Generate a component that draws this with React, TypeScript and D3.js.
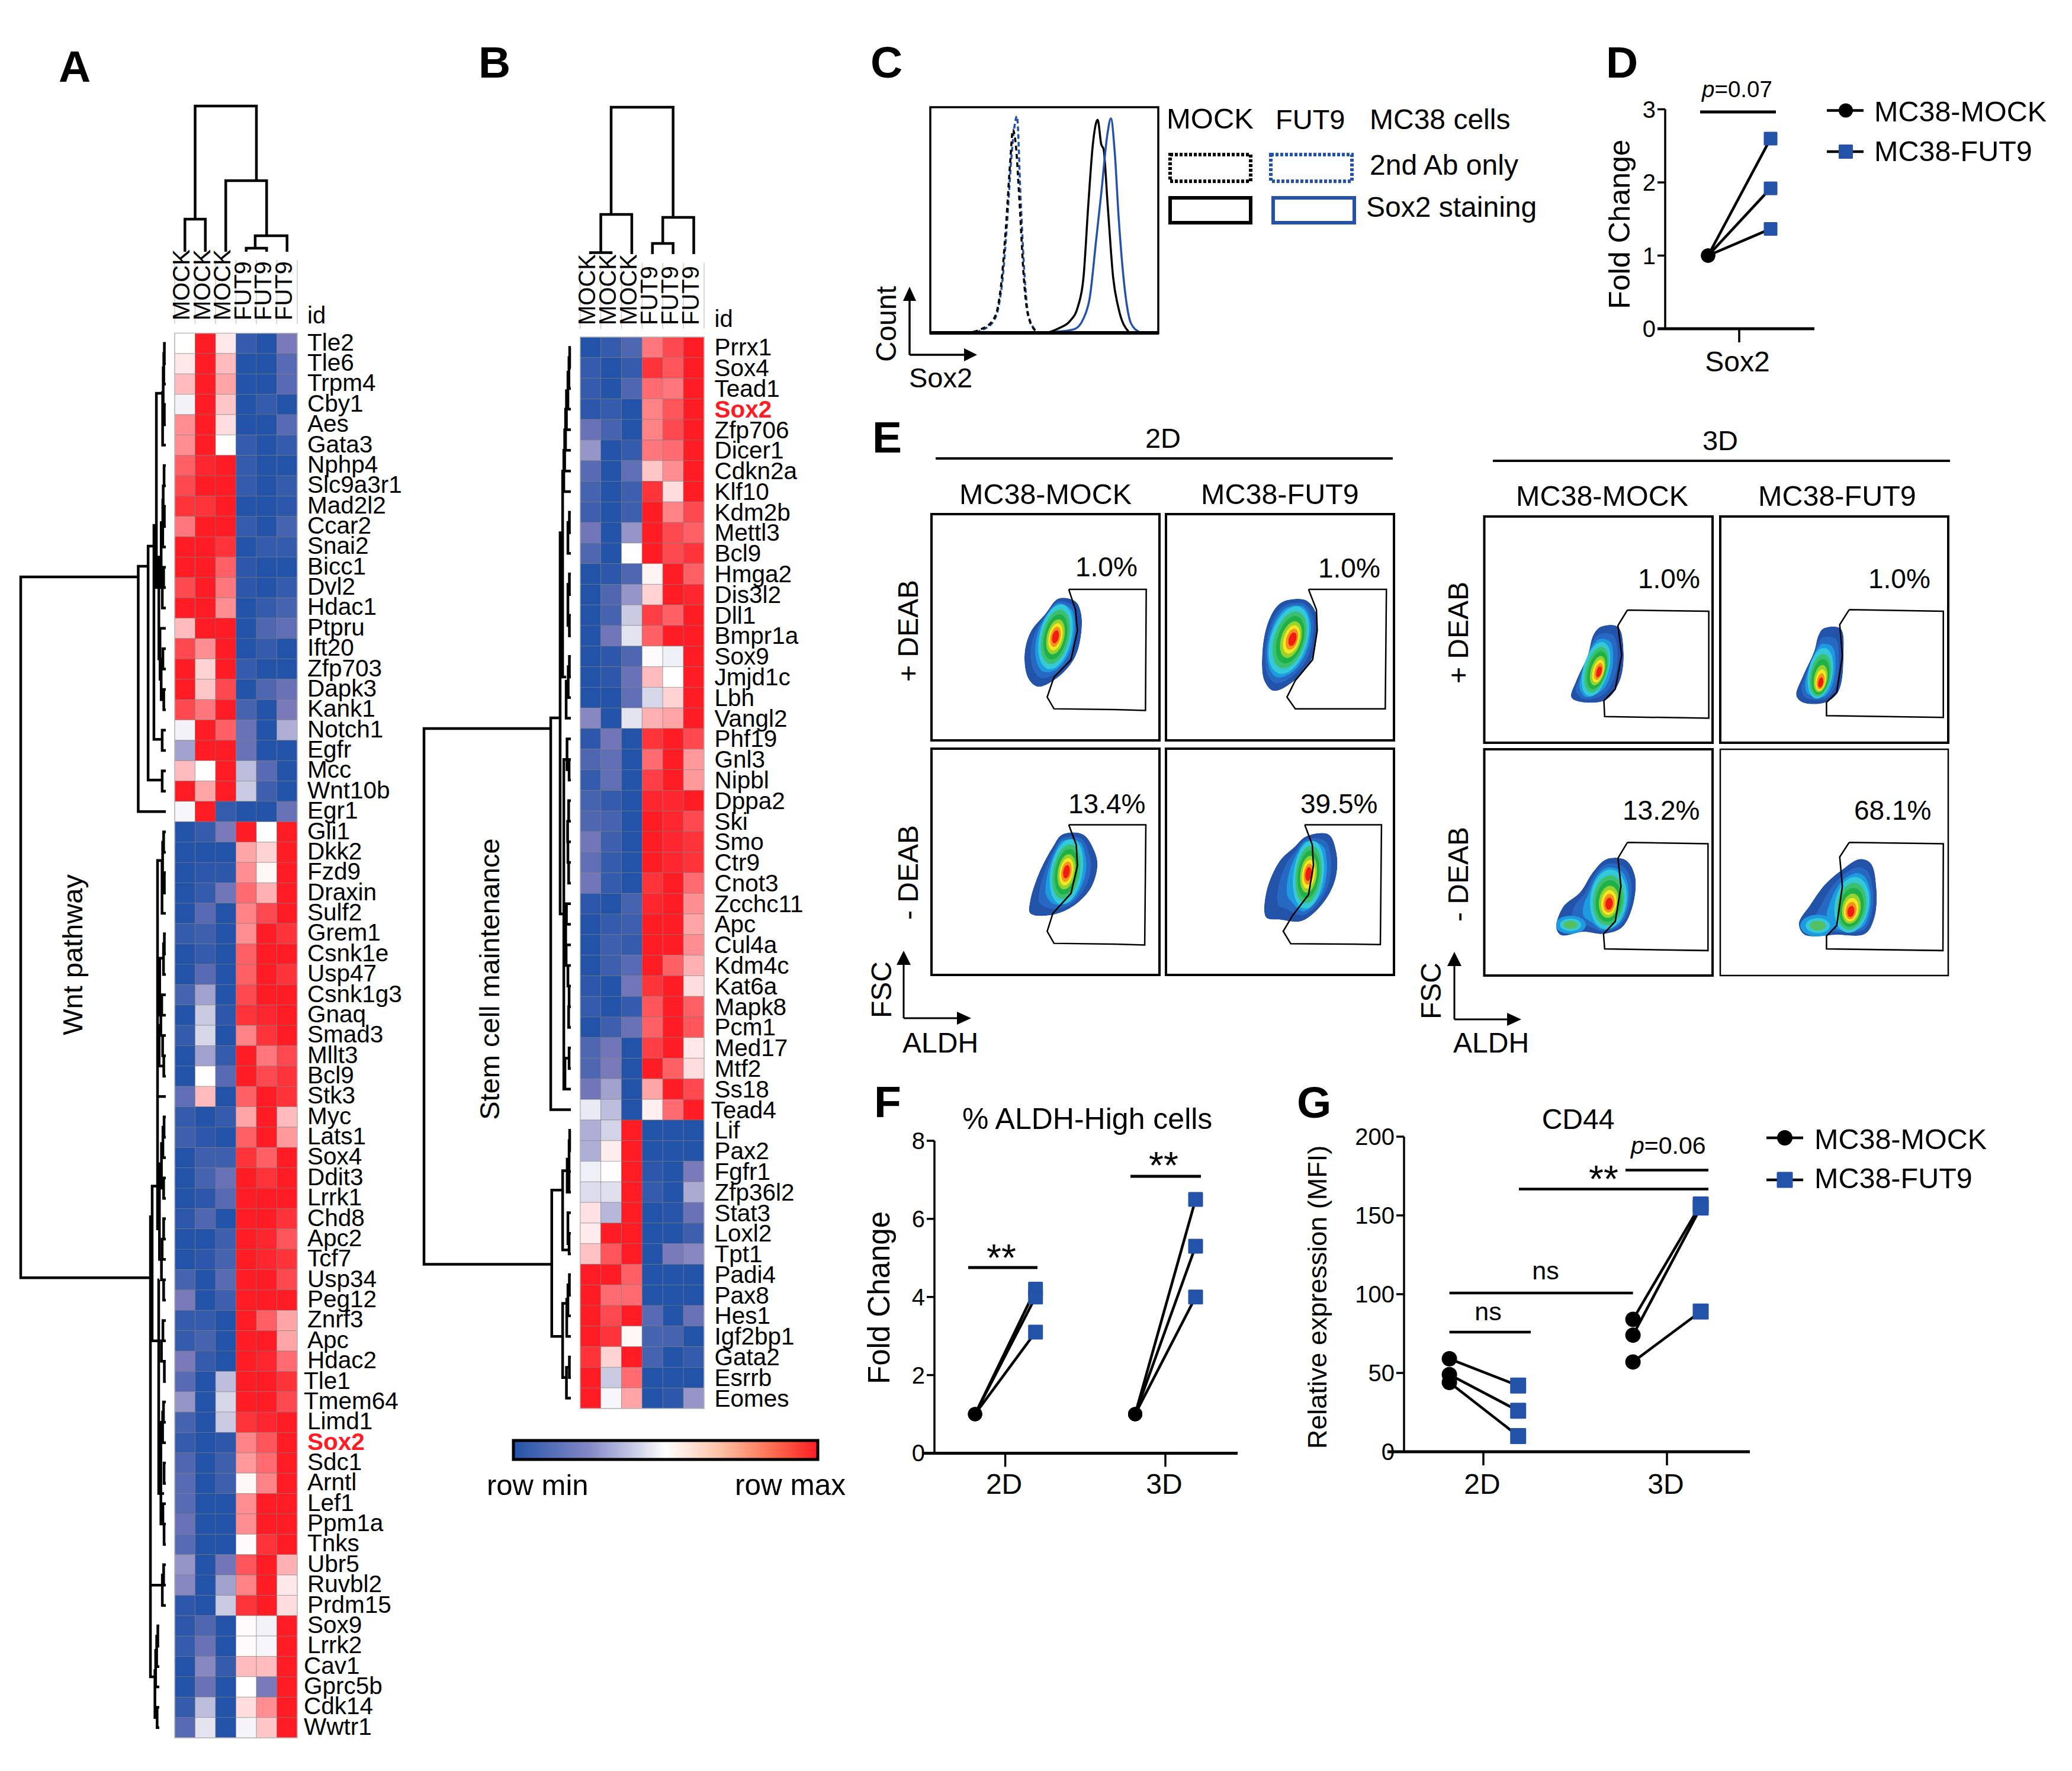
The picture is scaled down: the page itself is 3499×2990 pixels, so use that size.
import React from 'react';
import * as d3 from 'd3';

const FONT = '"Liberation Sans", Arial, sans-serif';
const BLUE = '#2353A8';
const RED = '#FF1C24';

// ---------- Heatmap data ----------
const genesA = ['Tle2','Tle6','Trpm4','Cby1','Aes','Gata3','Nphp4','Slc9a3r1','Mad2l2','Ccar2','Snai2','Bicc1','Dvl2','Hdac1','Ptpru','Ift20','Zfp703','Dapk3','Kank1','Notch1','Egfr','Mcc','Wnt10b','Egr1','Gli1','Dkk2','Fzd9','Draxin','Sulf2','Grem1','Csnk1e','Usp47','Csnk1g3','Gnaq','Smad3','Mllt3','Bcl9','Stk3','Myc','Lats1','Sox4','Ddit3','Lrrk1','Chd8','Apc2','Tcf7','Usp34','Peg12','Znrf3','Apc','Hdac2','Tle1','Tmem64','Limd1','Sox2','Sdc1','Arntl','Lef1','Ppm1a','Tnks','Ubr5','Ruvbl2','Prdm15','Sox9','Lrrk2','Cav1','Gprc5b','Cdk14','Wwtr1'];
const valuesA = [
[0,10,1,-9,-10,-5],[1,10,3,-10,-10,-7],[3,10,4,-10,-10,-7],[-0.5,10,2.5,-10,-9,-10],[5,10,1.5,-10,-10,-7],[5,10,0,-9,-10,-9],
[7,9.5,10,-9,-10,-10],[8,10,10,-9,-10,-9],[9,9,10,-10,-10,-9.5],[6,10,10,-9,-10,-8],[10,10,9,-10,-9,-9],[10,10,7,-9.5,-10,-10],
[8,10,6,-9.5,-10,-9],[10,10,5,-10,-9,-8],[3,10,10,-10,-7.5,-6.5],[8,5,10,-10,-9,-10],[10,2,10,-9,-10,-10],[10,2.5,8,-10,-7.5,-6],
[8,6,10,-8,-10,-5],[-0.5,10,7,-6,-10,-3],[-3.5,10,10,-6,-10,-10],[3,0,10,-2.5,-7,-10],[10,4,10,-2,-8.5,-10],[-0.3,10,-9,-10,-10,-6],
[-10,-9,-5,10,0,10],[-10,-10,-10,4,2,10],[-10,-9.5,-9.5,5,0.4,10],[-10,-9,-5.5,6.5,3.5,10],[-10,-7,-10,5.5,8,10],[-9,-8.5,-10,5,10,9],
[-10,-9,-10,7,10,10],[-10,-7,-10,7,10,9],[-8,-3.5,-10,8,10,10],[-10,-2,-9.5,9,9.5,10],[-9,-1.5,-10,5.5,9,10],[-10,-3.5,-9,10,6,8],
[-10,0,-7,10,8,9],[-6.5,3,-10,7,10,9],[-9,-10,-9,4,10,3],[-8.5,-9.5,-10,7,10,4.5],[-10,-8.5,-8.5,9,7,10],[-10,-8,-6,10,9,10],
[-10,-9.5,-7,10,10,10],[-9.5,-7.5,-10,10,10,9],[-10,-10,-8.5,10,9.5,7.5],[-10,-9.5,-8,10,9.5,9],[-8,-10,-7,10,10,8],[-5,-10,-8.5,10,10,10],
[-9,-9,-10,10,7,4],[-9,-8,-10,10,10,4],[-5,-9,-10,10,9.5,6.5],[-7,-10,-2.5,10,10,9],[-4,-10,-1.5,10,10,8],[-8,-10,-2,9,9.5,10],
[-9,-10,-9.5,5.5,7.5,10],[-7.5,-10,-8.5,4.5,6.5,10],[-7,-10,-8.5,0.3,5.5,10],[-7,-10,-10,5,10,10],[-6,-10,-10,5,10,10],[-7,-10,-10,0.2,9,10],
[-4,-10,-5.5,7.5,10,3.5],[-4.5,-10,-3.5,5.5,10,1],[-9.5,-10,-2,9,10,1.5],[-9.5,-7.5,-10,0.2,-0.5,10],[-9,-6,-10,0.2,-0.3,10],[-10,-4.5,-9,3,3,10],
[-10,-6,-10,0,-5,10],[-9,-2.5,-10,1.5,5,10],[-7,-1,-10,-0.4,2.5,10]];
const genesB = ['Prrx1','Sox4','Tead1','Sox2','Zfp706','Dicer1','Cdkn2a','Klf10','Kdm2b','Mettl3','Bcl9','Hmga2','Dis3l2','Dll1','Bmpr1a','Sox9','Jmjd1c','Lbh','Vangl2','Phf19','Gnl3','Nipbl','Dppa2','Ski','Smo','Ctr9','Cnot3','Zcchc11','Apc','Cul4a','Kdm4c','Kat6a','Mapk8','Pcm1','Med17','Mtf2','Ss18','Tead4','Lif','Pax2','Fgfr1','Zfp36l2','Stat3','Loxl2','Tpt1','Padi4','Pax8','Hes1','Igf2bp1','Gata2','Esrrb','Eomes'];
const valuesB = [
[-10,-9,-7.5,6,8,10],[-9,-10,-9,9,7.5,10],[-9,-10,-7.5,6.5,6,10],[-9.5,-9,-10,5.5,7.5,10],[-6,-8,-10,5.5,8,10],[-4,-10,-9,6,6.5,10],
[-7,-10,-6.5,2.5,5,10],[-8,-10,-8.5,9,1.5,10],[-8.5,-10,-8.5,10,5.5,8],[-5.5,-10,-4,10,8,7],[-7.5,-10,0,10,8,9],[-10,-9.5,-7.5,0.5,10,7],
[-10,-7.5,-4,2,10,9.5],[-10,-8,-2,8.5,7,10],[-10,-5.5,-1,7,10,10],[-10,-9.5,-7.5,0.2,-0.6,10],[-10,-9.5,-6,3,0,10],[-10,-10,-6.5,-1.5,2,10],
[-4.5,-10,-1,3.5,4,10],[-9.5,-5.5,-10,9,10,8],[-7.5,-6.5,-10,6.5,10,4.5],[-9,-6.5,-10,8.5,10,4.5],[-8,-9,-10,9.5,9.5,10],[-7.5,-8,-10,10,9.5,8],
[-5.5,-8.5,-10,10,9.5,9],[-6.5,-9,-10,10,9.5,9],[-5.5,-9,-10,9,10,6.5],[-9.5,-10,-8,9.5,10,5],[-10,-9,-8.5,10,10,4],[-10,-8.5,-9,10,10,5],
[-10,-8.5,-7,10,7,3.5],[-9.5,-10,-5.5,9,10,1.5],[-9,-10,-9,7.5,10,7],[-10,-8.5,-6,7,10,7.5],[-7.5,-5.5,-10,8.5,10,1],[-7.5,-5,-10,10,7,1.5],
[-5.5,-3.5,-10,4,10,8],[-0.8,-2.5,-10,0.7,6.5,10],[-3,-1.7,10,-10,-10,-10],[-3,0.8,10,-10,-10,-10],[-0.6,0.1,10,-9.5,-10,-5],[-1.3,-1.2,10,-9,-10,-3.2],
[1.3,-2.7,10,-10,-9.7,-6],[0.9,10,10,-10,-10,-8.5],[2.7,7.5,10,-10,-5,-4.5],[10,10,7,-10,-10,-10],[10,6.5,6.5,-10,-10,-10],[10,8,10,-7,-10,-6],
[10,9,0.4,-8,-8,-10],[9,2,10,-8,-10,-9],[10,-2,6.5,-10,-10,-10],[10,-0.3,4,-10,-9.5,-4]];
const samplesAB = ['MOCK','MOCK','MOCK','FUT9','FUT9','FUT9'];
const shiftedLabels = ['Tle1','Tmem64','Cav1','Gprc5b','Cdk14','Wwtr1','Tead4'];

// Dendrogram links: [from, to, height of first child, height of second child, height]
const treeTopA = [[0,1,0,0,22.4],[3,4,0,0,2.4],[3.44,5,2.4,0,11],[2,4,0,11,48.8],[0.5,3.5,22.4,48.8,100]];
const treeTopB = [[0,1,0,0,1],[0.5,2,1,0,27],[3,4,0,0,7.3],[3.5,5,7.3,0,25],[1,4,27,25,100]];
const treeRowA = [
[11.47,45.9,19,10.6,100],[10.95,23,12.2,0,19],[9.96,21.45,8.2,2.5,12.2],[21,22,0,0,2.5],[8.94,19.45,6.5,2.5,8.2],[19,20,0,0,2.5],[2.45,12,2.2,4.8,6.5],
[0,1,0,0,1],[0.5,2,1,0,1.4],[3,4,0,0,1],[1.2,3.5,1.4,1,1.8],[2.4,5,1.8,0,2.2],
[6,7,0,0,1.2],[8,9,0,0,1],[7,8.5,1.2,1,1.8],[7.7,10,1.8,0,2.1],[11,12,0,0,1.5],[11.5,13,1.5,0,2.4],[8.8,12,2.1,2.4,3.2],[15,16,0,0,2],[17,18,0,0,1.4],[15.5,17.5,2,1.4,3.2],[14,16.5,0,3.2,4],[10.5,15.5,3.2,4,4.8],
[42.9,65.5,9.4,7.5,10.6],[61,65.5,2.4,7.5,10.6],[60,61,0,0,1.5],[60.5,62,1.5,0,2.4],
[63,64,4.5,4.5,5.5],[63.5,65,5.5,4.5,6.3],[64.2,66,6.3,4.5,7],[67,68,4.5,4.5,6],[65.2,67.5,7,6,7.5],
[41.4,49,5.7,4.9,9.4],[25.4,43.5,2.6,4.4,5.7],[46,56.5,4.6,1.2,4.9],[37,37,0,0,5.7],
[24,25,0,0,1.5],[26,27,0,0,1],[24.5,26.5,1.5,1,2.2],[25.5,28,2.2,0,2.6],
[29,30,0,0,1],[29.5,31,1,0,1.6],[32,33,0,0,2.8],[33,34,0,0,3.4],[34,35,0,0,2.2],[35,36,0,0,1.4],[30.2,33,1.6,2.8,4.2],[33.5,35.5,3.4,2.2,4.6],
[38,39,0,0,1.2],[38.5,40,1.2,0,2],[41,42,0,0,1.5],[39.3,41.5,2,1.5,3],[40.3,45,3,3,4.4],
[43,44,0,0,1.5],[44,45,0,0,2.5],[45,46,0,0,3],[46,47,0,0,1.5],[48,49,0,0,2],[49,50,0,0,3],[50,51,0,0,1],
[52,53,0,0,1.6],[52.5,54,1.6,0,2.2],[55,56,0,0,1.2],[57,58,0,0,2],[58,59,0,0,1.2],[53,58,2.2,2,3.4]];
const treeRowB = [
[18.5,44.5,13.7,13,100],[17.98,37,7.3,0,13.7],[9,27.5,5.6,4.8,7.3],
[0,1,0,0,0.8],[0.5,2,0.8,0,1.3],[1.2,3,1.3,0,2],[2.1,4,2,0,3],[3,5,3,0,3.6],[4,6,3.6,0,4.2],[5,7,4.2,0,4.8],
[8,9,0,0,1],[8.5,10,1,0,2],[11,12,0,0,1],[13,14,0,0,1],[11.5,13.5,1,1,2],[15,16,0,0,1],[15.5,17,1,0,1.8],[16.2,18,1.8,0,3.2],[6,16,4.8,3.2,5.6],
[20,21,0,0,1.2],[22,23,0,0,1.5],[23,24,0,0,2.2],[24,25,0,0,2],[25,26,0,0,1.5],[19,20.5,0,1.2,2.6],[27,28,0,0,3],[28,29,0,0,3.5],[29,30,0,0,3.2],[30,31,0,0,2],[31,32,0,0,1.2],[32,33,0,0,1.5],[34,35,0,0,1.2],[34.5,36,1.2,0,4],[20,36,2.6,4,4.8],
[40.9,48,5.6,5.6,13],[39.96,43.8,2.5,2,5.6],[38,39,0,0,0.8],[38.5,40,0.8,0,1.2],[40,41,0,0,1.2],[39.4,41,1.2,1.2,2.5],[43,44,0,0,1.2],[42,43.5,0,1.2,2],
[45,46,0,0,1],[45.5,47,1,0,2],[46.2,48,2,0,2.8],[49,50,0,0,1],[49.5,51,1,0,3],[46.4,50,2.8,3,5.6]];

// ---------- Panel C ----------
const histDashedBlack = [[18.8,0.5],[22.2,1.6],[27.3,5.4],[29.7,11.8],[31.4,24.6],[33.1,46],[35.2,78],[36.2,90],[37.5,83.5],[39.2,56.7],[41,24.6],[42.7,8.6],[46,1]];
const histDashedBlue = [[20,0.3],[23,1.4],[27.6,5],[30,11.8],[31.8,24.6],[33.5,46],[35.6,78],[37,92],[38,96],[39.6,60],[41.4,24.6],[43,8],[46.5,0.8]];
const histSolidBlack = [[51.2,0],[56.3,2],[61.4,5.4],[64.8,11.8],[67.2,24.6],[69.3,56.7],[71.3,83.5],[73.4,94.4],[75,83.5],[76,81.4],[77.8,56.7],[80.2,24.6],[82.6,10.7],[87,0.5]];
const histSolidBlue = [[55.3,0.5],[63.1,1.6],[67.2,6.4],[70,16],[72.7,40.7],[75,62],[77.8,88.9],[79.2,95],[80.9,80],[82.6,51.4],[85.3,19.3],[88,4.3],[91.5,0.5]];

// ---------- Panel D, F, G values ----------
const foldD = [[1,2.6],[1,1.92],[1,1.365]];
const foldF2D = [[1,4.2],[1,4.0],[1,3.1]];
const foldF3D = [[1,6.5],[1,5.3],[1,4.0]];
const mfiG2D = [[59,42],[49,26],[44,10]];
const mfiG3D = [[84,157],[74,155],[57,89]];

// ---------- Panel E: gates and density outlines in plot units ----------
const plot2Dp = [
 {gate:[[363,181],[568,181],[566,472],[486,470],[324,468],[306,440],[324,392],[369,350],[386,280],[381,230],[363,181]],
  outline:[[336,203],[381,210],[396,240],[394,300],[376,350],[331,395],[281,415],[256,395],[246,340],[261,285],[301,240]],
  core:[328,295,42,80,15,328,295]},
 {gate:[[377,181],[583,181],[580,468],[500,468],[342,468],[320,440],[342,400],[388,350],[400,280],[398,230],[377,181]],
  outline:[[320,207],[370,207],[398,240],[398,300],[385,350],[340,400],[285,425],[260,400],[255,330],[270,260],[295,220]],
  core:[325,303,48,85,20,337,300]}];
const plot2Dm = [
 {gate:[[363,183],[567,183],[564,472],[486,470],[324,468],[306,439],[321,396],[369,348],[386,281],[383,231],[363,183]],
  outline:[[346,206],[401,206],[431,246],[439,281],[421,336],[371,381],[311,401],[261,396],[261,366],[286,296],[321,236]],
  core:[357,296,42,80,12,357,296]},
 {gate:[[367,183],[570,183],[567,471],[490,470],[330,469],[310,439],[335,401],[377,351],[390,281],[387,231],[367,183]],
  outline:[[370,211],[430,206],[450,246],[450,306],[420,366],[360,414],[300,411],[265,406],[265,346],[300,271],[340,236]],
  core:[377,303,40,83,8,377,301]}];
const plot3Dp = [
 {gate:[[378,225],[593,228],[593,485],[318,481],[316,443],[346,415],[363,333],[353,262],[378,225]],
  outline:[[308,265],[353,265],[368,325],[358,395],[323,440],[263,447],[230,435],[243,395],[273,335],[288,285]],
  core:[295,367,33,68,18,305,375]},
 {gate:[[341,224],[590,228],[590,483],[281,479],[281,447],[308,423],[323,335],[316,260],[341,224]],
  outline:[[273,269],[318,269],[326,335],[313,420],[278,447],[218,447],[201,430],[218,385],[248,325],[260,285]],
  core:[265,377,32,62,12,266,405]}];
const plot3Dm = [
 {gate:[[378,224],[591,227],[591,484],[318,480],[315,444],[346,414],[361,329],[353,262],[378,224]],
  outline:[[323,264],[373,266],[398,304],[393,374],[363,429],[313,444],[263,439],[203,447],[190,429],[208,379],[253,344],[288,294]],
  core:[328,361,48,72,8,330,374], extra:[228,422,28,15,0,228,422]},
 {gate:[[341,224],[590,227],[589,484],[281,480],[281,449],[308,424],[323,329],[316,259],[341,224]],
  outline:[[368,264],[398,274],[413,334],[408,404],[383,444],[308,446],[223,446],[208,419],[238,374],[278,324],[323,289]],
  core:[348,374,45,68,12,345,394], extra:[258,424,32,18,0,258,424]}];
const pct2D = [['1.0%','1.0%'],['13.4%','39.5%']];
const pct3D = [['1.0%','1.0%'],['13.2%','68.1%']];

// ---------- helpers ----------
const heat = d3.scaleLinear<string>().domain([-10,-5,0,10]).range([BLUE,'#7A7ABA','#FFFFFF',RED]);

function T({x,y,s,size=40,anchor='start',rot=false,bold=false,italic=false,fill='#000',children}:any){
  return <text x={x} y={y} fontFamily={FONT} fontSize={size} textAnchor={anchor} fontWeight={bold?'bold':'normal'} fontStyle={italic?'italic':'normal'} fill={fill} transform={rot?`rotate(-90 ${x} ${y})`:undefined}>{children??s}</text>;
}

function Heatmap({genes,values,x0,x1,y0,y1,labelX,labelDy,treeTop,topBase,topRoof,treeRow,leafX,rootX,sepTop,idY,headY}:any){
  const cols = d3.scaleBand<number>().domain(d3.range(6)).range([x0,x1]);
  const rows = d3.scaleBand<number>().domain(d3.range(genes.length)).range([y0,y1]);
  const cw = cols.bandwidth(), rh = rows.bandwidth();
  const colPos = d3.scaleLinear().domain([0,5]).range([x0+cw/2,x1-cw/2]);
  const topY = d3.scaleLinear().domain([0,100]).range([topBase,topRoof]);
  const rowPos = d3.scaleLinear().domain([0,genes.length-1]).range([y0+rh/2,y1-rh/2]);
  const treeX = d3.scaleLinear().domain([0,100]).range([leafX,rootX]);
  return <g>
    {values.map((r:number[],i:number)=>r.map((v,j)=>
      <rect key={i+'-'+j} x={cols(j)} y={rows(i)} width={cw} height={rh} fill={heat(v)} stroke="#777" strokeOpacity={0.5} strokeWidth={1}/>))}
    <rect x={x0} y={y0} width={x1-x0} height={y1-y0} fill="none" stroke="#bbb" strokeWidth={1.5}/>
    {genes.map((g:string,i:number)=>{
      const red = g==='Sox2';
      return <T key={g} x={labelX-(shiftedLabels.includes(g)?6:0)} y={rows(i)!+rh/2+labelDy} s={g} size={40.5} bold={red} fill={red?RED:'#000'}/>;
    })}
    {d3.range(7).map(j=><line key={j} x1={x0+j*cw} x2={x0+j*cw} y1={sepTop} y2={headY+6} stroke="#ccc" strokeWidth={1.5}/>)}
    {samplesAB.map((s,j)=><T key={j} x={colPos(j)+8} y={headY} s={s} rot/>)}
    <T x={labelX} y={idY} s="id"/>
    <path d={treeTop.map(([a,b,h0,h1,h]:number[])=>`M${colPos(a)} ${topY(h0)}V${topY(h)}H${colPos(b)}V${topY(h1)}`).join('')} fill="none" stroke="#000" strokeWidth={4.5}/>
    <path d={treeRow.map(([a,b,h0,h1,h]:number[])=>`M${treeX(h0)} ${rowPos(a)}H${treeX(h)}V${rowPos(b)}H${treeX(h1)}`).join('')} fill="none" stroke="#000" strokeWidth={4.5}/>
  </g>;
}

function Circle({x,y,r=12}:any){return <circle cx={x} cy={y} r={r} fill="#000"/>;}
function Sq({x,y,s=24}:any){return <rect x={x-s/2} y={y-s/2} width={s} height={s} rx={1.5} fill={BLUE}/>;}

function Pairs({data,xa,xb,y,r,s}:any){
  return <g>
    {data.map(([a,b]:number[],i:number)=><line key={i} x1={xa} x2={xb} y1={y(a)} y2={y(b)} stroke="#000" strokeWidth={4.5}/>)}
    {data.map(([a]:number[],i:number)=><Circle key={i} x={xa} y={y(a)} r={r}/>)}
    {data.map(([,b]:number[],i:number)=><Sq key={i} x={xb} y={y(b)} s={s}/>)}
  </g>;
}

function Axis({x,y,x0,x1,ticks,tickXs,labels,labelY,size=40}:any){
  return <g stroke="#000">
    <line x1={x} x2={x} y1={y.range()[0]} y2={y.range()[1]} strokeWidth={3.5}/>
    <line x1={x0} x2={x1} y1={y(0)} y2={y(0)} strokeWidth={5}/>
    {ticks.map((t:number)=><g key={t} stroke="none">
      <line x1={x-13} x2={x} y1={y(t)} y2={y(t)} stroke="#000" strokeWidth={3.5}/>
      <T x={x-16} y={y(t)+14} s={t} anchor="end" size={size} fill="#000"/>
    </g>)}
    {tickXs.map((t:number,i:number)=><g key={i} stroke="none">
      <line x1={t} x2={t} y1={y(0)} y2={y(0)+23} stroke="#000" strokeWidth={3.5}/>
      {labels[i]&&<T x={t-2} y={labelY} s={labels[i]} anchor="middle" size={48}/>}
    </g>)}
  </g>;
}

function Legend({x0,x1,cx,y1,y2,tx,b1,b2,r=12,s=24}:any){
  return <g>
    <line x1={x0} x2={x1} y1={y1} y2={y1} stroke="#000" strokeWidth={4.5}/>
    <Circle x={cx} y={y1} r={r}/>
    <T x={tx} y={b1} s="MC38-MOCK" size={48.5}/>
    <line x1={x0} x2={x1} y1={y2} y2={y2} stroke="#000" strokeWidth={4.5}/>
    <Sq x={cx} y={y2} s={s}/>
    <T x={tx} y={b2} s="MC38-FUT9" size={48.5}/>
  </g>;
}

const closed = d3.line().curve(d3.curveCatmullRomClosed.alpha(0.5));
function ellipseRadius(dx:number,dy:number,rx:number,ry:number,rot:number){
  const t = rot*Math.PI/180;
  const a = dx*Math.cos(t)+dy*Math.sin(t);
  const b = dx*Math.sin(t)-dy*Math.cos(t);
  const len = Math.hypot(dx,dy)||1;
  return 1/Math.sqrt((a/len/rx)**2+(b/len/ry)**2);
}
const outerLevels = [[0,'#2353A8'],[0.45,'#2668C2'],[0.78,'#1E9BE0']] as const;
const innerLevels = [[1,'#35C8D8'],[0.84,'#3CC070'],[0.7,'#1FB048'],[0.54,'#98D230'],[0.42,'#F5E820'],[0.31,'#F89020'],[0.2,'#F01C10']] as const;
let clipCounter = 0;
function Density({p,fx,fy}:any){
  const [cx,cy,rx,ry,rot] = p.core;
  const toPx = (q:number[]):[number,number]=>[fx(q[0]),fy(q[1])];
  const ell = (s:number,c=p.core)=>d3.range(24).map(i=>{
    const a=i/24*2*Math.PI, dx=Math.cos(a), dy=Math.sin(a), r=ellipseRadius(dx,dy,c[2],c[3],c[4])*s;
    const ox=c[5]+(c[0]-c[5])*s, oy=c[6]+(c[1]-c[6])*s;
    return toPx([ox+dx*r,oy+dy*r]);
  });
  const outlinePath = closed(p.outline.map(toPx))!;
  const id = React.useId().replace(/:/g,'');
  return <g>
    <clipPath id={id}><path d={outlinePath}/></clipPath>
    <g clipPath={`url(#${id})`}>
    {outerLevels.map(([t,color],k)=>{
      const pts = p.outline.map((q:number[])=>{
        const dx=q[0]-cx, dy=q[1]-cy, r=ellipseRadius(dx,dy,rx,ry,rot), len=Math.hypot(dx,dy)||1;
        const ex=cx+dx/len*r, ey=cy+dy/len*r;
        return toPx([q[0]+(ex-q[0])*t,q[1]+(ey-q[1])*t]);
      });
      return <path key={k} d={closed(pts)!} fill={color}/>;
    })}
    {p.extra&&<g>
      <path d={closed(ell(1.45,p.extra))!} fill="#1E9BE0"/>
      <path d={closed(ell(1,p.extra))!} fill="#35C8D8"/>
      <path d={closed(ell(0.65,p.extra))!} fill="#55C060"/>
    </g>}
    {innerLevels.map(([s,color],k)=><path key={k} d={closed(ell(s))!} fill={color}/>)}
    </g>
    <path d={d3.line()(p.gate.map(toPx))!} fill="none" stroke="#000" strokeWidth={2.5}/>
  </g>;
}

function FlowPanel({p,x0,x1,y0,y1,pct,px,pb,sw=4}:any){
  const fx = d3.scaleLinear().domain([0,603]).range([x0,x1]);
  const fy = d3.scaleLinear().domain([0,544]).range([y0,y1]);
  return <g>
    <Density p={p} fx={fx} fy={fy}/>
    <rect x={x0} y={y0} width={x1-x0} height={y1-y0} fill="none" stroke="#000" strokeWidth={sw}/>
    <T x={px} y={pb} s={pct} size={46}/>
  </g>;
}

function Arrows({x,y0,y1,x1,fscX,aldhY}:any){
  return <g>
    <path d={`M${x} ${y1}V${y0+24}M${x} ${y0}`} stroke="#000" strokeWidth={3} fill="none"/>
    <path d={`M${x} ${y1}H${x1-24}`} stroke="#000" strokeWidth={3} fill="none"/>
    <path d={`M${x} ${y0}l-12 24h24z`} fill="#000"/>
    <path d={`M${x1} ${y1}l-24 -11v22z`} fill="#000"/>
    <T x={fscX} y={y1} s="FSC" size={48} rot/>
    <T x={x-2} y={aldhY} s="ALDH" size={48}/>
  </g>;
}

export default function App(){
  const hx = d3.scaleLinear().domain([0,100]).range([1571,1956]);
  const hy = d3.scaleLinear().domain([0,100]).range([562,181]);
  const hist = d3.line().x((d:any)=>hx(d[0])).y((d:any)=>hy(d[1])).curve(d3.curveMonotoneX);
  const yD = d3.scaleLinear().domain([0,3]).range([555,184.5]);
  const yF = d3.scaleLinear().domain([0,8]).range([2453.4,1926]);
  const yG = d3.scaleLinear().domain([0,200]).range([2451,1919]);
  const legendStops:[number,string][] = [[0,BLUE],[25,'#8488C6'],[38,'#C0C4E2'],[50,'#FFFFFF'],[68,'#FFC0A4'],[85,'#FF6E50'],[100,RED]];
  return <svg width={3499} height={2990} viewBox="0 0 3499 2990" style={{position:'absolute',left:0,top:0,background:'#fff'}}>
    <defs><linearGradient id="rowGrad">{legendStops.map(([o,c])=><stop key={o} offset={o+'%'} stopColor={c}/>)}</linearGradient></defs>
    <rect width={3499} height={2990} fill="#fff"/>

    {/* panel letters */}
    <T x={99} y={138} s="A" size={75} bold/>
    <T x={808} y={131} s="B" size={75} bold/>
    <T x={1470} y={131} s="C" size={75} bold/>
    <T x={2712} y={131} s="D" size={75} bold/>
    <T x={1473} y={764} s="E" size={75} bold/>
    <T x={1476} y={1886} s="F" size={75} bold/>
    <T x={2190} y={1887} s="G" size={75} bold/>

    {/* A */}
    <Heatmap genes={genesA} values={valuesA} x0={295} x1={502} y0={562.5} y1={2934} labelX={519} labelDy={12}
      treeTop={treeTopA} topBase={425} topRoof={179} treeRow={treeRowA} leafX={280} rootX={35} sepTop={439} idY={546} headY={541}/>
    <T x={139} y={1612} s="Wnt pathway" size={47} anchor="middle" rot/>

    {/* B */}
    <Heatmap genes={genesB} values={valuesB} x0={979.7} x1={1189} y0={569} y1={2378} labelX={1206.5} labelDy={14}
      treeTop={treeTopB} topBase={429} topRoof={181} treeRow={treeRowB} leafX={964} rootX={716} sepTop={444} idY={552} headY={549}/>
    <T x={843} y={1653} s="Stem cell maintenance" size={47} anchor="middle" rot/>
    <rect x={867} y={2432} width={514} height={32} fill="url(#rowGrad)" stroke="#000" strokeWidth={5}/>
    <T x={822} y={2524} s="row min" size={49}/>
    <T x={1241} y={2524} s="row max" size={49.5}/>

    {/* C */}
    <path d={hist(histDashedBlue as any)!} fill="none" stroke={BLUE} strokeWidth={3.5} strokeDasharray="8 5"/>
    <path d={hist(histDashedBlack as any)!} fill="none" stroke="#000" strokeWidth={3.5} strokeDasharray="8 6"/>
    <path d={hist(histSolidBlack as any)!} fill="none" stroke="#000" strokeWidth={3.5}/>
    <path d={hist(histSolidBlue as any)!} fill="none" stroke={BLUE} strokeWidth={3.5}/>
    <rect x={1571} y={181} width={385} height={381} fill="none" stroke="#000" strokeWidth={3.5}/>
    <line x1={1570} x2={1957} y1={562} y2={562} stroke="#000" strokeWidth={6}/>
    <T x={1970} y={217} s="MOCK" size={49}/>
    <T x={2154} y={218} s="FUT9" size={47}/>
    <T x={2313} y={218} s="MC38 cells" size={48}/>
    <rect x={1976} y={261} width={136} height={45} fill="none" stroke="#000" strokeWidth={6} strokeDasharray="5 3"/>
    <rect x={2146} y={261} width={137} height={45} fill="none" stroke={BLUE} strokeWidth={6} strokeDasharray="5 3"/>
    <rect x={1976} y={334} width={136} height={42} fill="none" stroke="#000" strokeWidth={6}/>
    <rect x={2150} y={334} width={137} height={42} fill="none" stroke={BLUE} strokeWidth={6}/>
    <T x={2313} y={295} s="2nd Ab only" size={48}/>
    <T x={2307} y={366} s="Sox2 staining" size={48}/>
    <path d="M1536 599V505" stroke="#000" strokeWidth={3.5} fill="none"/>
    <path d="M1536 599H1630" stroke="#000" strokeWidth={3.5} fill="none"/>
    <path d="M1536 484l-11 24h22z" fill="#000"/>
    <path d="M1650 599l-22 -11v22z" fill="#000"/>
    <T x={1513} y={611} s="Count" size={48} rot/>
    <T x={1535} y={654} s="Sox2" size={47}/>

    {/* D */}
    <Axis x={2812} y={yD} x0={2799} x1={3064} ticks={[0,1,2,3]} tickXs={[2937]} labels={[null]} labelY={0}/>
    <T x={2934} y={627} s="Sox2" size={48} anchor="middle"/>
    <T x={2752} y={378.5} s="Fold Change" size={50} anchor="middle" rot/>
    <Pairs data={foldD} xa={2884.5} xb={2990} y={yD} r={12} s={23}/>
    <line x1={2871} x2={2999} y1={189} y2={189} stroke="#000" strokeWidth={5}/>
    <text x={2874} y={164} fontFamily={FONT} fontSize={38.5}><tspan fontStyle="italic">p</tspan>=0.07</text>
    <Legend x0={3085} x1={3147} cx={3117} y1={186.5} y2={256} tx={3165} b1={205} b2={272}/>

    {/* E, 2D */}
    <T x={1964} y={756} s="2D" size={47} anchor="middle"/>
    <line x1={1580} x2={2352} y1={774} y2={774} stroke="#000" strokeWidth={4}/>
    <T x={1620} y={851} s="MC38-MOCK" size={48.5}/>
    <T x={2028} y={851} s="MC38-FUT9" size={48.5}/>
    <FlowPanel p={plot2Dp[0]} x0={1573} x1={1958} y0={868} y1={1250} pct={pct2D[0][0]} px={1816} pb={973}/>
    <FlowPanel p={plot2Dp[1]} x0={1969} x1={2354} y0={868} y1={1250} pct={pct2D[0][1]} px={2226} pb={975}/>
    <FlowPanel p={plot2Dm[0]} x0={1573} x1={1958} y0={1264} y1={1646} pct={pct2D[1][0]} px={1804} pb={1373}/>
    <FlowPanel p={plot2Dm[1]} x0={1969} x1={2354} y0={1264} y1={1646} pct={pct2D[1][1]} px={2196} pb={1373}/>
    <T x={1550} y={1065} s="+ DEAB" size={48} anchor="middle" rot/>
    <T x={1550} y={1473} s="- DEAB" size={48} anchor="middle" rot/>
    <Arrows x={1526} y0={1605} y1={1719} x1={1640} fscX={1505} aldhY={1777}/>

    {/* E, 3D */}
    <T x={2905} y={760} s="3D" size={47} anchor="middle"/>
    <line x1={2521} x2={3293} y1={778} y2={778} stroke="#000" strokeWidth={4}/>
    <T x={2560} y={854} s="MC38-MOCK" size={48.5}/>
    <T x={2969} y={854} s="MC38-FUT9" size={48.5}/>
    <FlowPanel p={plot3Dp[0]} x0={2506.5} x1={2892} y0={872} y1={1254} pct={pct3D[0][0]} px={2766} pb={993}/>
    <FlowPanel p={plot3Dp[1]} x0={2905} x1={3290} y0={872} y1={1254} pct={pct3D[0][1]} px={3155} pb={993}/>
    <FlowPanel p={plot3Dm[0]} x0={2506.5} x1={2892} y0={1265} y1={1647} pct={pct3D[1][0]} px={2740} pb={1384}/>
    <FlowPanel p={plot3Dm[1]} x0={2905} x1={3290} y0={1265} y1={1647} pct={pct3D[1][1]} px={3131} pb={1384} sw={2.5}/>
    <T x={2479} y={1068} s="+ DEAB" size={48} anchor="middle" rot/>
    <T x={2479} y={1476} s="- DEAB" size={48} anchor="middle" rot/>
    <Arrows x={2456} y0={1607} y1={1721} x1={2569} fscX={2433} aldhY={1777}/>

    {/* F */}
    <T x={1625} y={1906} s="% ALDH-High cells" size={50}/>
    <Axis x={1578} y={yF} x0={1558} x1={2090} ticks={[0,2,4,6,8]} tickXs={[1697.6,1968]} labels={['2D','3D']} labelY={2522}/>
    <T x={1502} y={2191} s="Fold Change" size={51} anchor="middle" rot/>
    <Pairs data={foldF2D} xa={1646.6} xb={1748.7} y={yF} r={12} s={25}/>
    <Pairs data={foldF3D} xa={1917} xb={2019} y={yF} r={12} s={25}/>
    <line x1={1635} x2={1752} y1={2140} y2={2140} stroke="#000" strokeWidth={5}/>
    <T x={1691} y={2146} s="**" size={64} anchor="middle"/>
    <line x1={1909} x2={2028} y1={1986} y2={1986} stroke="#000" strokeWidth={5}/>
    <T x={1965} y={1990} s="**" size={64} anchor="middle"/>

    {/* G */}
    <T x={2665} y={1906} s="CD44" size={48} anchor="middle"/>
    <Axis x={2371} y={yG} x0={2343} x1={2955} ticks={[0,50,100,150,200]} tickXs={[2505,2815]} labels={['2D','3D']} labelY={2522}/>
    <T x={2240} y={2190} s="Relative expression (MFI)" size={45} anchor="middle" rot/>
    <Pairs data={mfiG2D} xa={2447.6} xb={2563.7} y={yG} r={13} s={27}/>
    <Pairs data={mfiG3D} xa={2757.6} xb={2872} y={yG} r={13} s={27}/>
    <line x1={2447.6} x2={2757.6} y1={2183} y2={2183} stroke="#000" strokeWidth={4.5}/>
    <T x={2610} y={2160} s="ns" size={43} anchor="middle"/>
    <line x1={2447.6} x2={2585} y1={2249} y2={2249} stroke="#000" strokeWidth={4.5}/>
    <T x={2513} y={2229} s="ns" size={43} anchor="middle"/>
    <line x1={2565} x2={2885} y1={2007.5} y2={2007.5} stroke="#000" strokeWidth={4.5}/>
    <line x1={2745} x2={2885} y1={1975.5} y2={1975.5} stroke="#000" strokeWidth={4.5}/>
    <T x={2708} y={2013} s="**" size={64} anchor="middle"/>
    <text x={2754} y={1948} fontFamily={FONT} fontSize={41}><tspan fontStyle="italic">p</tspan>=0.06</text>
    <Legend x0={2983} x1={3045} cx={3014} y1={1921} y2={1992} tx={3064} b1={1940} b2={2006} r={13} s={27}/>
  </svg>;
}
